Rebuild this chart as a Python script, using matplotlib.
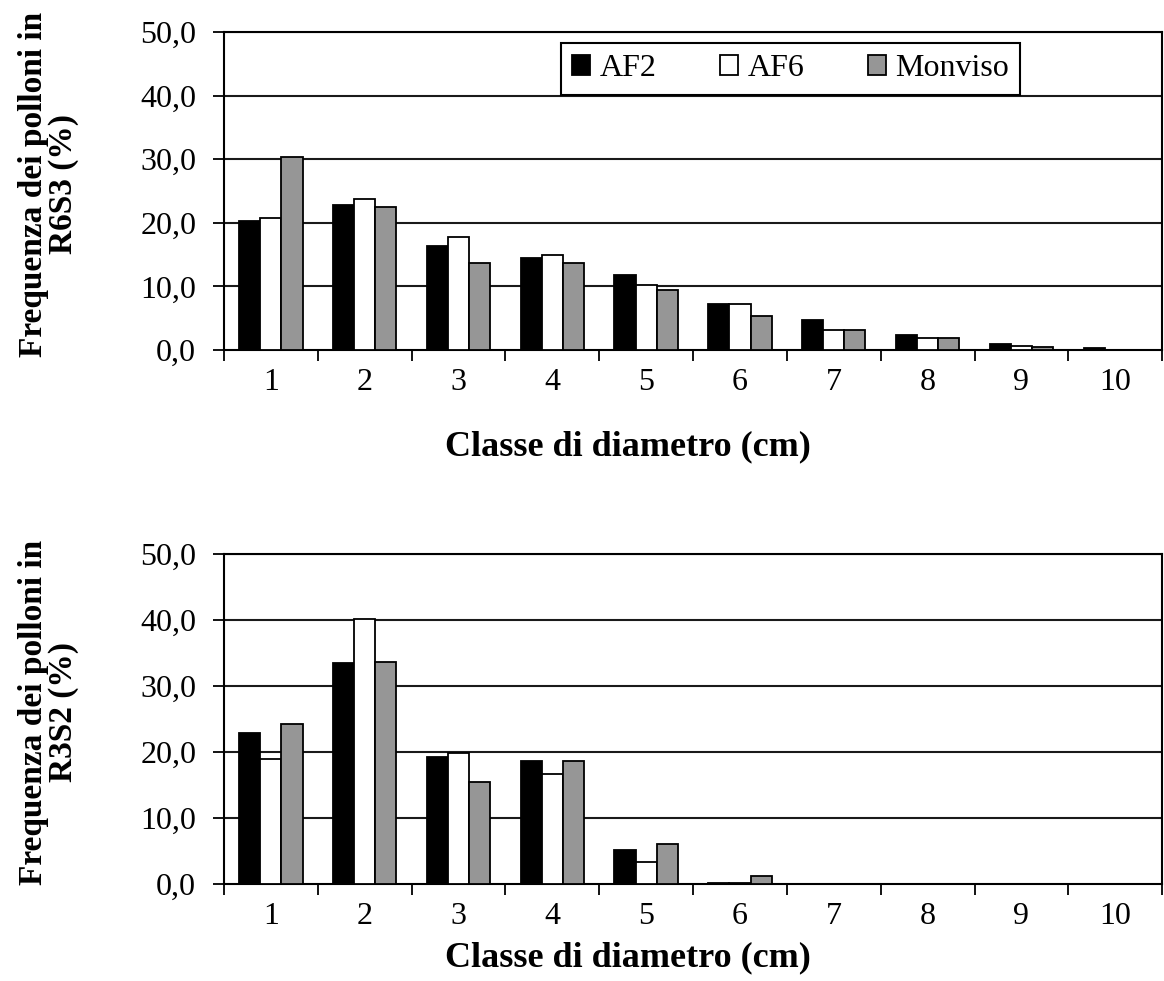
import numpy as np
import matplotlib.pyplot as plt

# ========= Data =========
classes = [1, 2, 3, 4, 5, 6, 7, 8, 9, 10]
series_names = ['AF2', 'AF6', 'Monviso']
series_colors = ['#000000', '#ffffff', '#969696']

# R6S3 (top chart)
r6s3_af2 = [20.3, 22.8, 16.4, 14.5, 11.8, 7.2, 4.7, 2.4, 1.0, 0.3]
r6s3_af6 = [20.8, 23.7, 17.8, 14.9, 10.3, 7.2, 3.1, 1.9, 0.7, 0.0]
r6s3_monviso = [30.4, 22.5, 13.7, 13.7, 9.5, 5.3, 3.1, 1.9, 0.4, 0.0]

# R3S2 (bottom chart)
r3s2_af2 = [22.8, 33.5, 19.3, 18.7, 5.2, 0.2, 0.0, 0.0, 0.0, 0.0]
r3s2_af6 = [18.9, 40.1, 19.9, 16.6, 3.3, 0.2, 0.0, 0.0, 0.0, 0.0]
r3s2_monviso = [24.2, 33.7, 15.4, 18.7, 6.1, 1.2, 0.0, 0.0, 0.0, 0.0]

y_ticks = [0, 10, 20, 30, 40, 50]
y_ticklabels = ['0,0', '10,0', '20,0', '30,0', '40,0', '50,0']
xlabel = 'Classe di diametro (cm)'
ylabels = ['Frequenza dei polloni in\nR6S3 (%)', 'Frequenza dei polloni in\nR3S2 (%)']

plt.rcParams['font.family'] = ['Liberation Serif', 'DejaVu Serif']

fig = plt.figure(figsize=(11.64, 9.81), dpi=100)
ax_top = fig.add_axes([0.1924, 0.6432, 0.806, 0.3242])
ax_bot = fig.add_axes([0.1924, 0.0989, 0.806, 0.3364])


def draw_panel(ax, data):
    x = np.array(classes, dtype=float)
    width = 0.225
    for i, (vals, color, name) in enumerate(zip(data, series_colors, series_names)):
        ax.bar(x + (i - 1) * width, vals, width, color=color,
               edgecolor='black', linewidth=1.3, label=name, zorder=3)
    ax.set_xlim(0.5, 10.5)
    ax.set_ylim(0, 50)
    ax.set_yticks(y_ticks)
    ax.set_yticklabels(y_ticklabels, fontsize=23)
    for yv in y_ticks[1:]:
        ax.axhline(yv, color='#1a1a1a', linewidth=1.5, zorder=1)
    # ticks at category boundaries, labels at centers
    ax.set_xticks(np.arange(0.5, 11, 1.0))
    ax.set_xticklabels([])
    ax.set_xticks(x, minor=True)
    ax.set_xticklabels([str(c) for c in classes], minor=True, fontsize=23)
    ax.tick_params(axis='x', which='major', direction='out', length=8, width=1.3)
    ax.tick_params(axis='x', which='minor', length=0, pad=13)
    ax.tick_params(axis='y', direction='out', length=8, width=1.3, pad=12)
    for s in ax.spines.values():
        s.set_linewidth(1.5)
        s.set_color('black')


draw_panel(ax_top, [r6s3_af2, r6s3_af6, r6s3_monviso])
draw_panel(ax_bot, [r3s2_af2, r3s2_af6, r3s2_monviso])

leg = ax_top.legend(loc='center', bbox_to_anchor=(0.604, 0.884), ncol=3,
                    fontsize=23, frameon=True, fancybox=False, framealpha=1,
                    edgecolor='black', handlelength=0.55, handleheight=0.55,
                    handletextpad=0.3, columnspacing=2.0, borderpad=0.35)
leg.get_frame().set_linewidth(1.5)
leg.set_zorder(5)

fig.text(0.5395, 0.5443, xlabel, ha='center', va='center', fontsize=26, fontweight='bold')
fig.text(0.5395, 0.0234, xlabel, ha='center', va='center', fontsize=26, fontweight='bold')

fig.text(0.042, 1 - 184 / 981, ylabels[0], rotation=90, ha='center', va='center',
         fontsize=24, fontweight='bold', multialignment='center', linespacing=0.95)
fig.text(0.042, 1 - 712 / 981, ylabels[1], rotation=90, ha='center', va='center',
         fontsize=24, fontweight='bold', multialignment='center', linespacing=0.95)

fig.savefig('out.png', dpi=100, facecolor='white')
